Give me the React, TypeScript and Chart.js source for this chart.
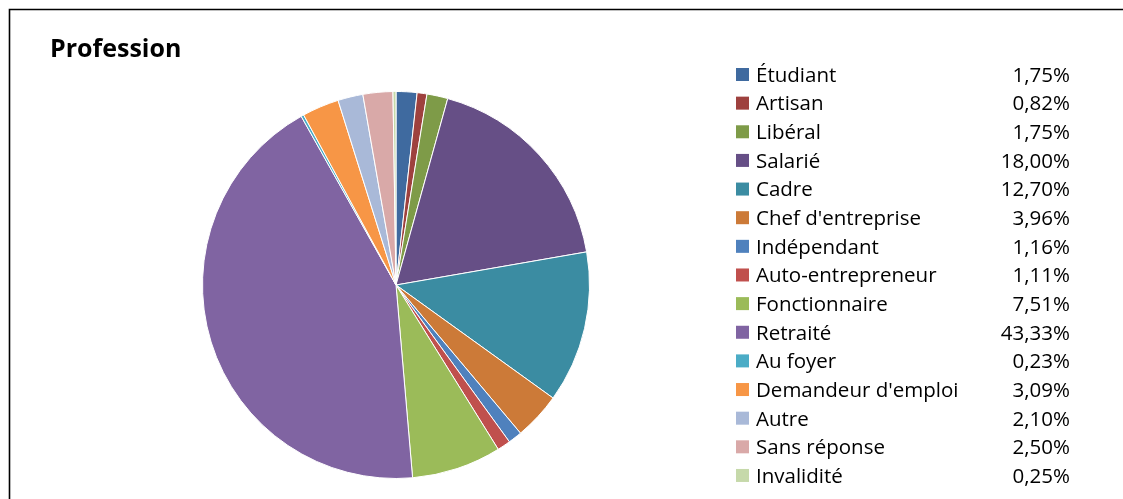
import React, { useEffect, useRef } from "react";
import { Chart, registerables } from "chart.js";

Chart.register(...registerables);

const titleText = "Profession";
const categories = [
  "Étudiant",
  "Artisan",
  "Libéral",
  "Salarié",
  "Cadre",
  "Chef d'entreprise",
  "Indépendant",
  "Auto-entrepreneur",
  "Fonctionnaire",
  "Retraité",
  "Au foyer",
  "Demandeur d'emploi",
  "Autre",
  "Sans réponse",
  "Invalidité",
];
const values = [1.75, 0.82, 1.75, 18.0, 12.7, 3.96, 1.16, 1.11, 7.51, 43.33, 0.23, 3.09, 2.1, 2.5, 0.25];
const valueLabels = ["1,75%", "0,82%", "1,75%", "18,00%", "12,70%", "3,96%", "1,16%", "1,11%", "7,51%", "43,33%", "0,23%", "3,09%", "2,10%", "2,50%", "0,25%"];
const colors = [
  "#3F6A9F",
  "#9E413E",
  "#7E9B48",
  "#664F86",
  "#3B8CA2",
  "#CC7A38",
  "#4F81BD",
  "#C0504D",
  "#9BBB59",
  "#8064A2",
  "#4BACC6",
  "#F79646",
  "#A9B9D8",
  "#D9A9A8",
  "#C6D9AA",
];

const FONT = "Open Sans, Noto Sans, sans-serif";

const decorPlugin = {
  id: "decor",
  afterDraw(chart: any) {
    const ctx = chart.ctx as CanvasRenderingContext2D;
    ctx.save();
    // frame
    ctx.strokeStyle = "#000";
    ctx.lineWidth = 1.6;
    ctx.beginPath();
    ctx.moveTo(9.5, 499);
    ctx.lineTo(9.5, 9.5);
    ctx.lineTo(1123, 9.5);
    ctx.stroke();
    // title
    ctx.fillStyle = "#000";
    ctx.font = `bold 25px ${FONT}`;
    ctx.textBaseline = "middle";
    ctx.textAlign = "left";
    ctx.fillText(titleText, 50, 50);
    // legend
    const x0 = 736;
    const y0 = 75;
    const step = 28.64;
    ctx.font = `20.5px ${FONT}`;
    categories.forEach((c, i) => {
      const y = y0 + i * step;
      ctx.fillStyle = colors[i];
      ctx.fillRect(x0, y - 7, 13, 13);
      ctx.fillStyle = "#000";
      ctx.textAlign = "left";
      ctx.fillText(c, x0 + 20, y + 1);
      ctx.textAlign = "right";
      ctx.fillText(valueLabels[i], 1070, y + 1);
    });
    ctx.restore();
  },
};

export default function App() {
  const ref = useRef<HTMLCanvasElement>(null);
  useEffect(() => {
    document.body.style.margin = "0";
    const chart = new Chart(ref.current!, {
      type: "pie",
      data: {
        labels: categories,
        datasets: [
          {
            data: values,
            backgroundColor: colors,
            borderColor: "#ffffff",
            borderWidth: 1,
          },
        ],
      },
      options: {
        animation: false,
        responsive: false,
        maintainAspectRatio: false,
        layout: { padding: { left: 202, right: 533, top: 91, bottom: 20 } },
        plugins: { legend: { display: false }, tooltip: { enabled: false }, title: { display: false } },
      },
      plugins: [decorPlugin],
    });
    return () => chart.destroy();
  }, []);
  return (
    <div style={{ position: "absolute", left: 0, top: 0, width: 1123, height: 499, background: "#fff" }}>
      <canvas ref={ref} width={1123} height={499} style={{ width: 1123, height: 499 }} />
    </div>
  );
}
